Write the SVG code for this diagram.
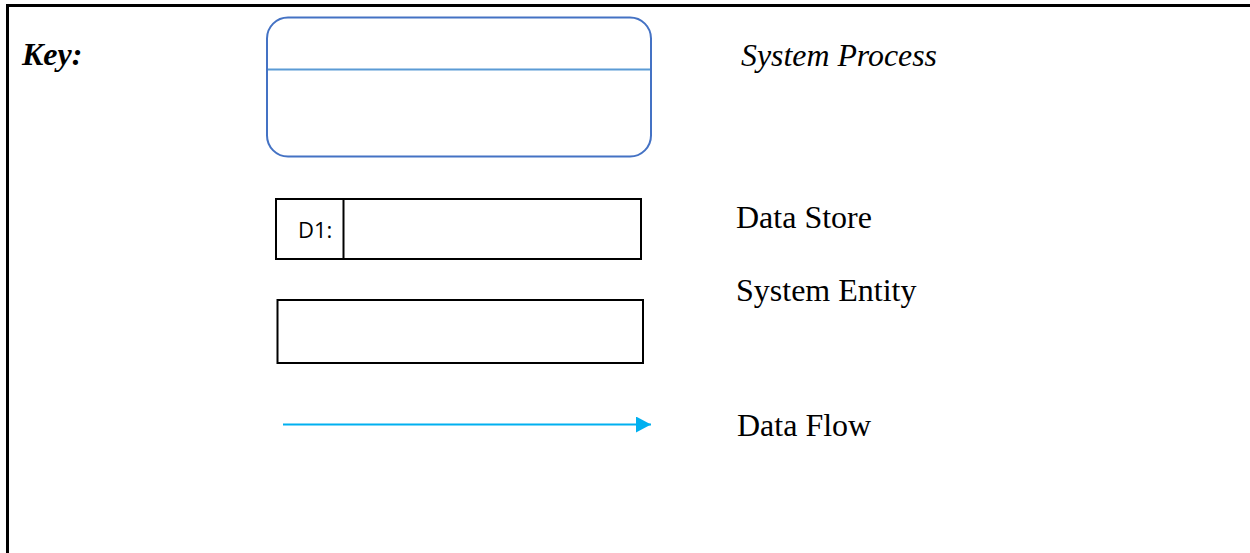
<svg xmlns="http://www.w3.org/2000/svg" width="1250" height="553" viewBox="0 0 1250 553">
<style>
.lbl{font-family:"Liberation Serif","Times New Roman",serif;font-size:32px;fill:#000}
.it{font-style:italic}
.box{fill:#fff;stroke:#000;stroke-width:2}
</style>
<defs>
<marker id="ah" markerWidth="16" markerHeight="16" refX="15" refY="8" markerUnits="userSpaceOnUse" orient="auto">
<path d="M0,0 L15,8 L0,16 Z" fill="#00B0F0"/>
</marker>
</defs>
<rect x="0" y="0" width="1250" height="553" fill="#fff"/>
<g id="frame">
<path d="M1250,5.5 H7.5 V553" fill="none" stroke="#000" stroke-width="3"/>
</g>
<text class="lbl it" x="22" y="65" font-weight="bold">Key:</text>
<g id="process">
<rect x="267" y="17.5" width="384" height="139" rx="21" ry="21" fill="#fff" stroke="#4472C4" stroke-width="2"/>
<line x1="268" y1="69.5" x2="650" y2="69.5" stroke="#5B9BD5" stroke-width="2"/>
</g>
<text class="lbl it" x="741" y="66" textLength="196" lengthAdjust="spacingAndGlyphs">System Process</text>
<g id="datastore">
<rect class="box" x="276" y="199" width="365" height="60"/>
<line x1="343.5" y1="199" x2="343.5" y2="259" stroke="#000" stroke-width="2"/>
<text x="298" y="238" font-family="'Open Sans','Liberation Sans',sans-serif" font-size="22" fill="#000">D1:</text>
</g>
<text class="lbl" x="736" y="228">Data Store</text>
<g id="entity">
<rect class="box" x="277.5" y="300" width="365.5" height="63"/>
</g>
<text class="lbl" x="736" y="301">System Entity</text>
<g id="connectors">
<line x1="283" y1="424.5" x2="651" y2="424.5" stroke="#00B0F0" stroke-width="2" marker-end="url(#ah)"/>
</g>
<text class="lbl" x="737" y="436">Data Flow</text>
</svg>
